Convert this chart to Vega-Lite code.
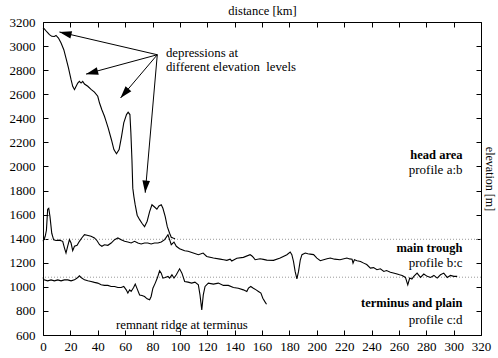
{
  "$schema": "https://vega.github.io/schema/vega-lite/v6.json",
  "width": 438,
  "height": 313,
  "autosize": {"type": "none"},
  "padding": {"left": 43, "top": 22, "right": 17, "bottom": 23},
  "background": "white",
  "config": {
    "view": {"stroke": null},
    "font": "Liberation Serif, Times New Roman, serif",
    "text": {"font": "Liberation Serif, Times New Roman, serif"},
    "axis": {
      "grid": false,
      "domainColor": "black",
      "tickColor": "black",
      "labelColor": "black",
      "titleColor": "black",
      "labelFont": "Liberation Serif, Times New Roman, serif",
      "titleFont": "Liberation Serif, Times New Roman, serif",
      "labelFontSize": 13,
      "titleFontSize": 12.5,
      "titleFontWeight": "normal",
      "tickSize": -5,
      "labelPadding": 11,
      "labelFlush": false,
      "labelOverlap": false,
      "format": "d"
    }
  },
  "datasets": {
    "profiles": [
      {"profile": "a:b", "d": 0, "elev": 3150}, {"profile": "a:b", "d": 1, "elev": 3142}, {"profile": "a:b", "d": 2.9, "elev": 3117}, {"profile": "a:b", "d": 4.7, "elev": 3095}, {"profile": "a:b", "d": 6.4, "elev": 3081}, {"profile": "a:b", "d": 8.3, "elev": 3080}, {"profile": "a:b", "d": 9.5, "elev": 3088}, {"profile": "a:b", "d": 11.3, "elev": 3067}, {"profile": "a:b", "d": 13.2, "elev": 3025}, {"profile": "a:b", "d": 15.2, "elev": 2970}, {"profile": "a:b", "d": 16.8, "elev": 2900}, {"profile": "a:b", "d": 18.6, "elev": 2818}, {"profile": "a:b", "d": 20.5, "elev": 2721}, {"profile": "a:b", "d": 21.7, "elev": 2666}, {"profile": "a:b", "d": 23, "elev": 2638}, {"profile": "a:b", "d": 24.2, "elev": 2666}, {"profile": "a:b", "d": 25.4, "elev": 2693}, {"profile": "a:b", "d": 26.6, "elev": 2707}, {"profile": "a:b", "d": 27.8, "elev": 2693}, {"profile": "a:b", "d": 29, "elev": 2707}, {"profile": "a:b", "d": 30.3, "elev": 2685}, {"profile": "a:b", "d": 32.7, "elev": 2666}, {"profile": "a:b", "d": 35.1, "elev": 2640}, {"profile": "a:b", "d": 37.6, "elev": 2618}, {"profile": "a:b", "d": 40, "elev": 2583}, {"profile": "a:b", "d": 41.3, "elev": 2527}, {"profile": "a:b", "d": 43, "elev": 2471}, {"profile": "a:b", "d": 44.9, "elev": 2417}, {"profile": "a:b", "d": 46.1, "elev": 2375}, {"profile": "a:b", "d": 47.6, "elev": 2320}, {"profile": "a:b", "d": 50, "elev": 2222}, {"profile": "a:b", "d": 51.8, "elev": 2140}, {"profile": "a:b", "d": 53.7, "elev": 2106}, {"profile": "a:b", "d": 55.6, "elev": 2140}, {"profile": "a:b", "d": 57.4, "elev": 2250}, {"profile": "a:b", "d": 59, "elev": 2362}, {"profile": "a:b", "d": 61, "elev": 2431}, {"profile": "a:b", "d": 62.2, "elev": 2450}, {"profile": "a:b", "d": 63.5, "elev": 2431}, {"profile": "a:b", "d": 64.2, "elev": 2280}, {"profile": "a:b", "d": 65, "elev": 2050}, {"profile": "a:b", "d": 65.6, "elev": 1820}, {"profile": "a:b", "d": 66.4, "elev": 1750}, {"profile": "a:b", "d": 67.3, "elev": 1685}, {"profile": "a:b", "d": 68.8, "elev": 1595}, {"profile": "a:b", "d": 70.6, "elev": 1558}, {"profile": "a:b", "d": 72.3, "elev": 1528}, {"profile": "a:b", "d": 74.2, "elev": 1500}, {"profile": "a:b", "d": 76.1, "elev": 1545}, {"profile": "a:b", "d": 77.9, "elev": 1625}, {"profile": "a:b", "d": 79.6, "elev": 1682}, {"profile": "a:b", "d": 81.5, "elev": 1663}, {"profile": "a:b", "d": 83.2, "elev": 1645}, {"profile": "a:b", "d": 84.7, "elev": 1672}, {"profile": "a:b", "d": 86.4, "elev": 1682}, {"profile": "a:b", "d": 87.6, "elev": 1653}, {"profile": "a:b", "d": 89.3, "elev": 1583}, {"profile": "a:b", "d": 90.8, "elev": 1500}, {"profile": "a:b", "d": 92.5, "elev": 1445}, {"profile": "a:b", "d": 93.7, "elev": 1412}, {"profile": "a:b", "d": 95, "elev": 1405}, {"profile": "a:b", "d": 96.5, "elev": 1400},

      {"profile": "b:c", "d": 0, "elev": 1378}, {"profile": "b:c", "d": 0.8, "elev": 1395}, {"profile": "b:c", "d": 1.6, "elev": 1420}, {"profile": "b:c", "d": 2.5, "elev": 1470}, {"profile": "b:c", "d": 3.4, "elev": 1645}, {"profile": "b:c", "d": 4.2, "elev": 1653}, {"profile": "b:c", "d": 5.1, "elev": 1583}, {"profile": "b:c", "d": 6.4, "elev": 1445}, {"profile": "b:c", "d": 7.8, "elev": 1390}, {"profile": "b:c", "d": 9.5, "elev": 1385}, {"profile": "b:c", "d": 12, "elev": 1388}, {"profile": "b:c", "d": 14.4, "elev": 1378}, {"profile": "b:c", "d": 15.7, "elev": 1322}, {"profile": "b:c", "d": 16.8, "elev": 1281}, {"profile": "b:c", "d": 18, "elev": 1337}, {"profile": "b:c", "d": 19.3, "elev": 1392}, {"profile": "b:c", "d": 20.5, "elev": 1364}, {"profile": "b:c", "d": 21.7, "elev": 1300}, {"profile": "b:c", "d": 23, "elev": 1337}, {"profile": "b:c", "d": 24.9, "elev": 1345}, {"profile": "b:c", "d": 26.6, "elev": 1378}, {"profile": "b:c", "d": 28.3, "elev": 1406}, {"profile": "b:c", "d": 30.3, "elev": 1433}, {"profile": "b:c", "d": 32.2, "elev": 1428}, {"profile": "b:c", "d": 35.1, "elev": 1420}, {"profile": "b:c", "d": 37.6, "elev": 1406}, {"profile": "b:c", "d": 39.5, "elev": 1383}, {"profile": "b:c", "d": 41.3, "elev": 1350}, {"profile": "b:c", "d": 43, "elev": 1337}, {"profile": "b:c", "d": 44.9, "elev": 1350}, {"profile": "b:c", "d": 47.4, "elev": 1345}, {"profile": "b:c", "d": 49.8, "elev": 1364}, {"profile": "b:c", "d": 52.3, "elev": 1392}, {"profile": "b:c", "d": 54.7, "elev": 1406}, {"profile": "b:c", "d": 57.1, "elev": 1392}, {"profile": "b:c", "d": 59.6, "elev": 1378}, {"profile": "b:c", "d": 62, "elev": 1372}, {"profile": "b:c", "d": 64.4, "elev": 1364}, {"profile": "b:c", "d": 66.9, "elev": 1378}, {"profile": "b:c", "d": 69.3, "elev": 1364}, {"profile": "b:c", "d": 71.7, "elev": 1356}, {"profile": "b:c", "d": 74.2, "elev": 1364}, {"profile": "b:c", "d": 76.6, "elev": 1364}, {"profile": "b:c", "d": 79, "elev": 1356}, {"profile": "b:c", "d": 81.5, "elev": 1364}, {"profile": "b:c", "d": 84, "elev": 1364}, {"profile": "b:c", "d": 86.4, "elev": 1372}, {"profile": "b:c", "d": 88.9, "elev": 1392}, {"profile": "b:c", "d": 91.3, "elev": 1433}, {"profile": "b:c", "d": 92.5, "elev": 1392}, {"profile": "b:c", "d": 93.7, "elev": 1350}, {"profile": "b:c", "d": 95.7, "elev": 1372}, {"profile": "b:c", "d": 97.4, "elev": 1337}, {"profile": "b:c", "d": 99.8, "elev": 1317}, {"profile": "b:c", "d": 103.5, "elev": 1300}, {"profile": "b:c", "d": 106, "elev": 1295}, {"profile": "b:c", "d": 109.8, "elev": 1281}, {"profile": "b:c", "d": 113.5, "elev": 1267}, {"profile": "b:c", "d": 115, "elev": 1272}, {"profile": "b:c", "d": 117, "elev": 1281}, {"profile": "b:c", "d": 119.6, "elev": 1252}, {"profile": "b:c", "d": 124.5, "elev": 1240}, {"profile": "b:c", "d": 129.4, "elev": 1230}, {"profile": "b:c", "d": 132, "elev": 1225}, {"profile": "b:c", "d": 134.3, "elev": 1220}, {"profile": "b:c", "d": 136.7, "elev": 1230}, {"profile": "b:c", "d": 137.9, "elev": 1215}, {"profile": "b:c", "d": 141.6, "elev": 1238}, {"profile": "b:c", "d": 146.4, "elev": 1245}, {"profile": "b:c", "d": 151.3, "elev": 1267}, {"profile": "b:c", "d": 152.5, "elev": 1258}, {"profile": "b:c", "d": 153.7, "elev": 1245}, {"profile": "b:c", "d": 155, "elev": 1225}, {"profile": "b:c", "d": 158.6, "elev": 1233}, {"profile": "b:c", "d": 161, "elev": 1228}, {"profile": "b:c", "d": 163.5, "elev": 1222}, {"profile": "b:c", "d": 168.4, "elev": 1220}, {"profile": "b:c", "d": 173.3, "elev": 1239}, {"profile": "b:c", "d": 178.2, "elev": 1267}, {"profile": "b:c", "d": 180.6, "elev": 1289}, {"profile": "b:c", "d": 181.8, "elev": 1267}, {"profile": "b:c", "d": 183, "elev": 1212}, {"profile": "b:c", "d": 184.2, "elev": 1128}, {"profile": "b:c", "d": 185.5, "elev": 1067}, {"profile": "b:c", "d": 186.7, "elev": 1128}, {"profile": "b:c", "d": 188, "elev": 1225}, {"profile": "b:c", "d": 189.2, "elev": 1267}, {"profile": "b:c", "d": 191.6, "elev": 1281}, {"profile": "b:c", "d": 193.5, "elev": 1275}, {"profile": "b:c", "d": 195.2, "elev": 1272}, {"profile": "b:c", "d": 197.7, "elev": 1268}, {"profile": "b:c", "d": 200.1, "elev": 1239}, {"profile": "b:c", "d": 202.6, "elev": 1217}, {"profile": "b:c", "d": 205, "elev": 1225}, {"profile": "b:c", "d": 207.5, "elev": 1233}, {"profile": "b:c", "d": 209.9, "elev": 1239}, {"profile": "b:c", "d": 213, "elev": 1230}, {"profile": "b:c", "d": 217, "elev": 1225}, {"profile": "b:c", "d": 222, "elev": 1239}, {"profile": "b:c", "d": 224, "elev": 1232}, {"profile": "b:c", "d": 225.8, "elev": 1230}, {"profile": "b:c", "d": 226.5, "elev": 1197}, {"profile": "b:c", "d": 227.5, "elev": 1225}, {"profile": "b:c", "d": 229.4, "elev": 1217}, {"profile": "b:c", "d": 232, "elev": 1210}, {"profile": "b:c", "d": 234.3, "elev": 1197}, {"profile": "b:c", "d": 236.5, "elev": 1185}, {"profile": "b:c", "d": 239.2, "elev": 1156}, {"profile": "b:c", "d": 241.5, "elev": 1160}, {"profile": "b:c", "d": 244, "elev": 1142}, {"profile": "b:c", "d": 246.5, "elev": 1150}, {"profile": "b:c", "d": 249, "elev": 1128}, {"profile": "b:c", "d": 251, "elev": 1135}, {"profile": "b:c", "d": 253.8, "elev": 1122}, {"profile": "b:c", "d": 256, "elev": 1115}, {"profile": "b:c", "d": 258.7, "elev": 1106}, {"profile": "b:c", "d": 260.5, "elev": 1100}, {"profile": "b:c", "d": 262.4, "elev": 1095}, {"profile": "b:c", "d": 264.8, "elev": 1078}, {"profile": "b:c", "d": 266.5, "elev": 1017}, {"profile": "b:c", "d": 267.9, "elev": 1073}, {"profile": "b:c", "d": 269.5, "elev": 1065}, {"profile": "b:c", "d": 270.9, "elev": 1087}, {"profile": "b:c", "d": 273.3, "elev": 1114}, {"profile": "b:c", "d": 275.8, "elev": 1078}, {"profile": "b:c", "d": 278.2, "elev": 1106}, {"profile": "b:c", "d": 280.7, "elev": 1087}, {"profile": "b:c", "d": 283.1, "elev": 1078}, {"profile": "b:c", "d": 285.6, "elev": 1095}, {"profile": "b:c", "d": 288, "elev": 1073}, {"profile": "b:c", "d": 290.4, "elev": 1100}, {"profile": "b:c", "d": 292.8, "elev": 1114}, {"profile": "b:c", "d": 295.3, "elev": 1078}, {"profile": "b:c", "d": 297.7, "elev": 1095}, {"profile": "b:c", "d": 300.1, "elev": 1087}, {"profile": "b:c", "d": 302.6, "elev": 1087},

      {"profile": "c:d", "d": 0, "elev": 1078}, {"profile": "c:d", "d": 0.8, "elev": 1058}, {"profile": "c:d", "d": 3.4, "elev": 1050}, {"profile": "c:d", "d": 5.9, "elev": 1058}, {"profile": "c:d", "d": 8.3, "elev": 1050}, {"profile": "c:d", "d": 10.8, "elev": 1058}, {"profile": "c:d", "d": 13.2, "elev": 1050}, {"profile": "c:d", "d": 15.6, "elev": 1058}, {"profile": "c:d", "d": 18.1, "elev": 1058}, {"profile": "c:d", "d": 20.5, "elev": 1050}, {"profile": "c:d", "d": 23, "elev": 1058}, {"profile": "c:d", "d": 24.9, "elev": 1073}, {"profile": "c:d", "d": 26.6, "elev": 1092}, {"profile": "c:d", "d": 27.8, "elev": 1078}, {"profile": "c:d", "d": 30.3, "elev": 1058}, {"profile": "c:d", "d": 32.7, "elev": 1050}, {"profile": "c:d", "d": 35.1, "elev": 1045}, {"profile": "c:d", "d": 37.6, "elev": 1037}, {"profile": "c:d", "d": 40, "elev": 1031}, {"profile": "c:d", "d": 42.5, "elev": 1017}, {"profile": "c:d", "d": 44.9, "elev": 1012}, {"profile": "c:d", "d": 47.4, "elev": 1012}, {"profile": "c:d", "d": 49.8, "elev": 1003}, {"profile": "c:d", "d": 52.3, "elev": 1003}, {"profile": "c:d", "d": 54.7, "elev": 995}, {"profile": "c:d", "d": 57.1, "elev": 995}, {"profile": "c:d", "d": 59, "elev": 1003}, {"profile": "c:d", "d": 60.8, "elev": 975}, {"profile": "c:d", "d": 62, "elev": 948}, {"profile": "c:d", "d": 63.3, "elev": 975}, {"profile": "c:d", "d": 64.4, "elev": 962}, {"profile": "c:d", "d": 66.2, "elev": 995}, {"profile": "c:d", "d": 67.4, "elev": 1023}, {"profile": "c:d", "d": 68.8, "elev": 983}, {"profile": "c:d", "d": 70.6, "elev": 933}, {"profile": "c:d", "d": 72.3, "elev": 928}, {"profile": "c:d", "d": 74.2, "elev": 920}, {"profile": "c:d", "d": 76.1, "elev": 900}, {"profile": "c:d", "d": 77.9, "elev": 892}, {"profile": "c:d", "d": 79, "elev": 920}, {"profile": "c:d", "d": 80.3, "elev": 989}, {"profile": "c:d", "d": 82, "elev": 1031}, {"profile": "c:d", "d": 83.5, "elev": 1073}, {"profile": "c:d", "d": 85.2, "elev": 1134}, {"profile": "c:d", "d": 86.4, "elev": 1114}, {"profile": "c:d", "d": 87.6, "elev": 1073}, {"profile": "c:d", "d": 89.3, "elev": 1078}, {"profile": "c:d", "d": 91.3, "elev": 1087}, {"profile": "c:d", "d": 92.5, "elev": 1073}, {"profile": "c:d", "d": 94.2, "elev": 1100}, {"profile": "c:d", "d": 95.7, "elev": 1073}, {"profile": "c:d", "d": 97.4, "elev": 1100}, {"profile": "c:d", "d": 99.8, "elev": 1150}, {"profile": "c:d", "d": 101.5, "elev": 1114}, {"profile": "c:d", "d": 103.5, "elev": 1045}, {"profile": "c:d", "d": 106, "elev": 1039}, {"profile": "c:d", "d": 108.6, "elev": 1031}, {"profile": "c:d", "d": 111, "elev": 1039}, {"profile": "c:d", "d": 113.5, "elev": 1017}, {"profile": "c:d", "d": 114.7, "elev": 933}, {"profile": "c:d", "d": 116, "elev": 808}, {"profile": "c:d", "d": 117.1, "elev": 933}, {"profile": "c:d", "d": 118.4, "elev": 1003}, {"profile": "c:d", "d": 120.8, "elev": 1031}, {"profile": "c:d", "d": 124.5, "elev": 1023}, {"profile": "c:d", "d": 128.1, "elev": 1031}, {"profile": "c:d", "d": 131.8, "elev": 1012}, {"profile": "c:d", "d": 135.4, "elev": 1012}, {"profile": "c:d", "d": 139.1, "elev": 995}, {"profile": "c:d", "d": 142.7, "elev": 989}, {"profile": "c:d", "d": 146.4, "elev": 975}, {"profile": "c:d", "d": 148.9, "elev": 962}, {"profile": "c:d", "d": 150.1, "elev": 989}, {"profile": "c:d", "d": 151.8, "elev": 1003}, {"profile": "c:d", "d": 153.7, "elev": 989}, {"profile": "c:d", "d": 155.7, "elev": 975}, {"profile": "c:d", "d": 157.4, "elev": 962}, {"profile": "c:d", "d": 159.2, "elev": 948}, {"profile": "c:d", "d": 160.6, "elev": 906}, {"profile": "c:d", "d": 162.3, "elev": 873}, {"profile": "c:d", "d": 163.3, "elev": 856}
    ],
    "levels": [{"level": 1395}, {"level": 1080}],
    "arrows": [
      {"x0": 83.5, "y0": 2928, "x1": 12.0, "y1": 3117},
      {"x0": 83.5, "y0": 2928, "x1": 31.5, "y1": 2768},
      {"x0": 83.5, "y0": 2928, "x1": 56.7, "y1": 2569},
      {"x0": 83.5, "y0": 2928, "x1": 74.7, "y1": 1782}
    ],
    "notesLeft": [
      {"d": 89.8, "elev": 2942, "label": "depressions at"},
      {"d": 89.8, "elev": 2826, "label": "different elevation\u00a0 levels"},
      {"d": 53.3, "elev": 686, "label": "remnant ridge at terminus"}
    ],
    "areaTitles": [
      {"d": 306.5, "elev": 2095, "label": "head area"},
      {"d": 306.5, "elev": 1323, "label": "main trough"},
      {"d": 306.5, "elev": 866, "label": "terminus and plain"}
    ],
    "profileLabels": [
      {"d": 306.5, "elev": 1968, "label": "profile a:b"},
      {"d": 306.5, "elev": 1198, "label": "profile b:c"},
      {"d": 306.5, "elev": 725, "label": "profile c:d"}
    ]
  },
  "layer": [
    {
      "data": {"name": "levels"},
      "mark": {"type": "rule", "color": "#999999", "strokeWidth": 1, "strokeDash": [1, 2]},
      "encoding": {
        "y": {"field": "level", "type": "quantitative", "scale": {"domain": [600, 3200], "nice": false, "zero": false}, "axis": null}
      }
    },
    {
      "data": {"name": "profiles"},
      "mark": {"type": "line", "color": "black", "strokeWidth": 1.1, "interpolate": "linear"},
      "encoding": {
        "x": {"field": "d", "type": "quantitative", "scale": {"domain": [0, 320], "nice": false, "zero": false},
              "axis": {"orient": "bottom", "title": null, "labelPadding": 10, "values": [0, 20, 40, 60, 80, 100, 120, 140, 160, 180, 200, 220, 240, 260, 280, 300, 320]}},
        "y": {"field": "elev", "type": "quantitative", "scale": {"domain": [600, 3200], "nice": false, "zero": false},
              "axis": {"orient": "left", "title": null, "labelPadding": 13, "values": [600, 800, 1000, 1200, 1400, 1600, 1800, 2000, 2200, 2400, 2600, 2800, 3000, 3200]}},
        "detail": {"field": "profile", "type": "nominal"},
        "order": {"field": "d", "type": "quantitative"}
      }
    },
    {
      "data": {"name": "arrows"},
      "mark": {"type": "rule", "color": "black", "strokeWidth": 1},
      "encoding": {
        "x": {"field": "x0", "type": "quantitative", "axis": null},
        "y": {"field": "y0", "type": "quantitative", "axis": null},
        "x2": {"field": "x1"},
        "y2": {"field": "y1"}
      }
    },
    {
      "data": {"values": [{"d": 16.3, "elev": 3105}]},
      "mark": {"type": "point", "shape": "M0,-1L0.62,1L-0.62,1Z", "size": 150, "filled": true, "color": "black", "opacity": 1, "angle": 283.4},
      "encoding": {"x": {"field": "d", "type": "quantitative", "axis": null}, "y": {"field": "elev", "type": "quantitative", "axis": null}}
    },
    {
      "data": {"values": [{"d": 35.7, "elev": 2780}]},
      "mark": {"type": "point", "shape": "M0,-1L0.62,1L-0.62,1Z", "size": 150, "filled": true, "color": "black", "opacity": 1, "angle": 255.2},
      "encoding": {"x": {"field": "d", "type": "quantitative", "axis": null}, "y": {"field": "elev", "type": "quantitative", "axis": null}}
    },
    {
      "data": {"values": [{"d": 59.5, "elev": 2607}]},
      "mark": {"type": "point", "shape": "M0,-1L0.62,1L-0.62,1Z", "size": 150, "filled": true, "color": "black", "opacity": 1, "angle": 220.6},
      "encoding": {"x": {"field": "d", "type": "quantitative", "axis": null}, "y": {"field": "elev", "type": "quantitative", "axis": null}}
    },
    {
      "data": {"values": [{"d": 75.0, "elev": 1832}]},
      "mark": {"type": "point", "shape": "M0,-1L0.62,1L-0.62,1Z", "size": 150, "filled": true, "color": "black", "opacity": 1, "angle": 185},
      "encoding": {"x": {"field": "d", "type": "quantitative", "axis": null}, "y": {"field": "elev", "type": "quantitative", "axis": null}}
    },
    {
      "data": {"name": "notesLeft"},
      "mark": {"type": "text", "align": "left", "baseline": "middle", "font": "Liberation Serif, Times New Roman, serif", "fontSize": 12.8, "color": "black"},
      "encoding": {
        "x": {"field": "d", "type": "quantitative", "axis": null},
        "y": {"field": "elev", "type": "quantitative", "axis": null},
        "text": {"field": "label"}
      }
    },
    {
      "data": {"name": "areaTitles"},
      "mark": {"type": "text", "align": "right", "baseline": "middle", "font": "Liberation Serif, Times New Roman, serif", "fontSize": 12.5, "fontWeight": "bold", "color": "black"},
      "encoding": {
        "x": {"field": "d", "type": "quantitative", "axis": null},
        "y": {"field": "elev", "type": "quantitative", "axis": null},
        "text": {"field": "label"}
      }
    },
    {
      "data": {"name": "profileLabels"},
      "mark": {"type": "text", "align": "right", "baseline": "middle", "font": "Liberation Serif, Times New Roman, serif", "fontSize": 13, "color": "black"},
      "encoding": {
        "x": {"field": "d", "type": "quantitative",
              "axis": {"orient": "top", "title": "distance [km]", "labels": false, "titlePadding": 4, "values": [0, 20, 40, 60, 80, 100, 120, 140, 160, 180, 200, 220, 240, 260, 280, 300, 320]}},
        "y": {"field": "elev", "type": "quantitative",
              "axis": {"orient": "right", "title": "elevation [m]", "titleFontSize": 12, "labels": false, "titlePadding": 1, "titleAngle": 90, "values": [600, 800, 1000, 1200, 1400, 1600, 1800, 2000, 2200, 2400, 2600, 2800, 3000, 3200]}},
        "text": {"field": "label"}
      }
    }
  ],
  "resolve": {"axis": {"x": "independent", "y": "independent"}}
}
